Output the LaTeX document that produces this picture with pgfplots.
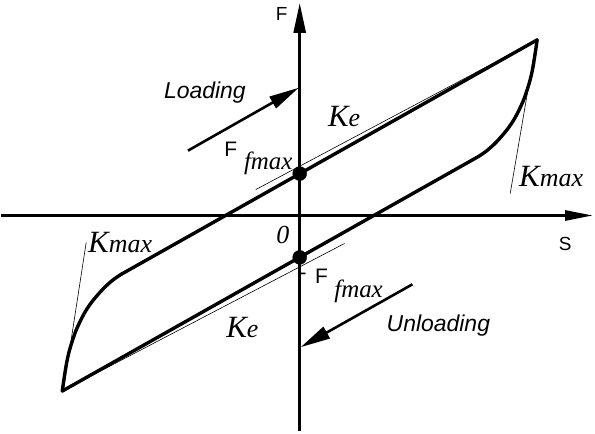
\documentclass[border=0pt]{standalone}
\usepackage{fontspec}
\setmainfont{Liberation Sans}
\newfontfamily\kfont{Liberation Serif}
\usepackage{pgfplots}
\pgfplotsset{compat=1.18}
\usetikzlibrary{arrows.meta}

\newcommand{\Kmax}{{\kfont\itshape\fontsize{31}{31}\selectfont K\fontsize{26}{26}\selectfont max}}
\newcommand{\Ke}{{\kfont\itshape\fontsize{31}{31}\selectfont K\fontsize{26}{26}\selectfont e}}
\newcommand{\fmax}{{\kfont\itshape\fontsize{25}{25}\selectfont fmax}}

\begin{document}
\begin{tikzpicture}
\begin{axis}[
  scale only axis, width=595pt, height=435pt,
  xmin=-299, xmax=296, ymin=-219, ymax=216,
  hide axis, clip=false,
  loop/.style={line width=3.4pt, line cap=round, line join=round},
  thin/.style={line width=0.6pt},
]
% canvas extent
\addplot[draw=none] coordinates {(-299,-219) (296,216)};

% S and F axes
\addplot[line width=2.8pt, -{Triangle[length=28pt,width=10pt]}] coordinates {(-299,0) (294,0)};
\addplot[line width=2.8pt, -{Triangle[length=30pt,width=12pt]}] coordinates {(0,-216) (0,213)};

% secant / tangent stiffness lines
\addplot[thin] coordinates {(-44,26) (238,176)};
\addplot[thin] coordinates {(-238,-176) (45,-28)};
\addplot[thin] coordinates {(237,174) (211,22)};
\addplot[thin] coordinates {(-237,-176) (-214,-27)};

% hysteresis loop: lower (loading) branch
\addplot[loop] coordinates {(-238,-176) (179,59)};
\addplot[loop, smooth, tension=0.5] coordinates {
  (179,59) (187,64.5) (195,71.5) (202,79) (209,87.5) (215,96.5)
  (220,106) (224.5,116) (228,126) (231,136) (233.5,147)
  (235.5,159) (237,169) (238,176)};
% upper (unloading) branch
\addplot[loop] coordinates {(238,176) (-179,-59)};
\addplot[loop, smooth, tension=0.5] coordinates {
  (-179,-59) (-187,-64.5) (-195,-71.5) (-202,-79) (-209,-87.5) (-215,-96.5)
  (-220,-106) (-224.5,-116) (-228,-126) (-231,-136) (-233.5,-147)
  (-235.5,-159) (-237,-169) (-238,-176)};

% friction force points
\addplot[only marks, mark=*, mark size=7pt, black] coordinates {(0,42) (0,-42)};

% loading / unloading direction arrows
\addplot[line width=2.6pt, -{Triangle[length=30pt,width=13pt]}] coordinates {(-112,65) (-1,128)};
\addplot[line width=2.6pt, -{Triangle[length=30pt,width=13pt]}] coordinates {(113,-69) (1,-132)};

% labels
\node at (axis cs:-18,202) {\fontsize{19}{19}\selectfont F};
\node at (axis cs:266,-29) {\fontsize{19}{19}\selectfont S};
\node at (axis cs:-17,-20) {\kfont\itshape\fontsize{26}{26}\selectfont 0};
\node at (axis cs:-95,123) {\itshape\fontsize{23}{23}\selectfont Loading};
\node at (axis cs:139,-110) {\itshape\fontsize{23}{23}\selectfont Unloading};
\node at (axis cs:44.5,99) {\Ke};
\node at (axis cs:-57.5,-112) {\Ke};
\node at (axis cs:252,39) {\Kmax};
\node at (axis cs:-180,-27) {\Kmax};
\node at (axis cs:-69,66) {\fontsize{21}{21}\selectfont F};
\node at (axis cs:-31.5,52) {\fmax};
\node at (axis cs:3.5,-61) {\fontsize{21}{21}\selectfont -};
\node at (axis cs:22,-61) {\fontsize{21}{21}\selectfont F};
\node at (axis cs:59,-76) {\fmax};
\end{axis}
\end{tikzpicture}
\end{document}
